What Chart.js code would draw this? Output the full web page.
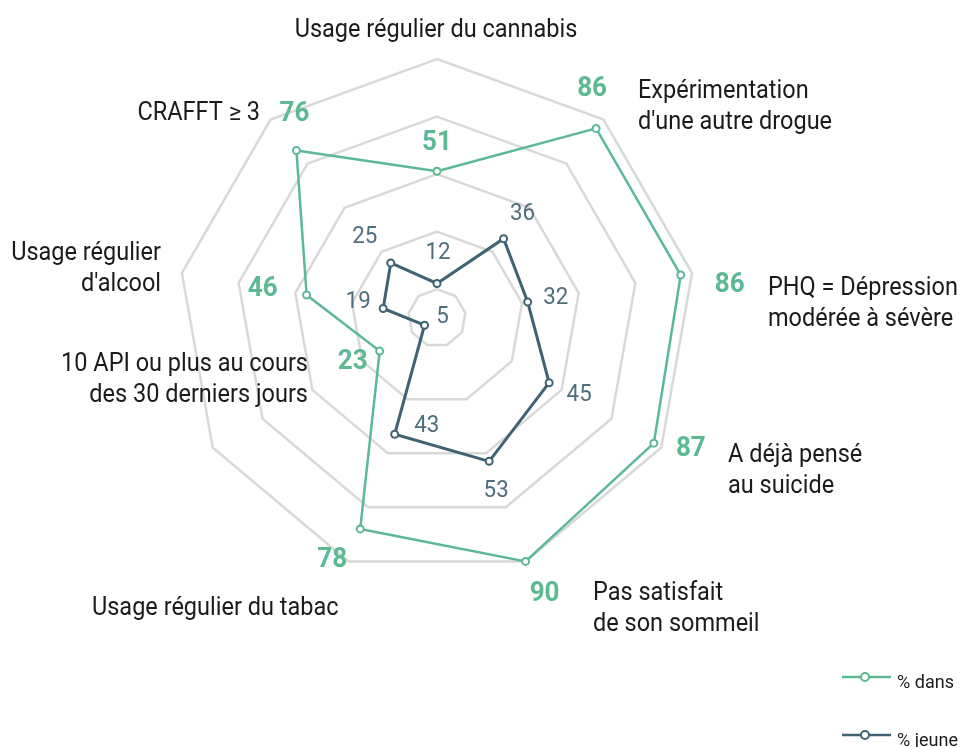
<!DOCTYPE html>
<html>
<head>
<meta charset="utf-8">
<script src="https://cdn.jsdelivr.net/npm/chart.js@4.4.1/dist/chart.umd.min.js"></script>
<style>
  html, body { margin: 0; padding: 0; background: #ffffff; }
  canvas { display: block; }
</style>
</head>
<body>
<canvas id="radar" width="960" height="747"></canvas>
<script>
// categories (one array per label, one string per line)
const categories = [
    ["Usage régulier du cannabis"],
    ["Expérimentation", "d'une autre drogue"],
    ["PHQ = Dépression", "modérée à sévère"],
    ["A déjà pensé", "au suicide"],
    ["Pas satisfait", "de son sommeil"],
    ["Usage régulier du tabac"],
    ["10 API ou plus au cours", "des 30 derniers jours"],
    ["Usage régulier", "d'alcool"],
    ["CRAFFT ≥ 3"],
];

const seriesNames = ["% dans", "% jeune"];
const dansValues = [51, 86, 86, 87, 90, 78, 23, 46, 76];
const jeuneValues = [12, 36, 32, 45, 53, 43, 5, 19, 25];

// grid rings (first one sits at the centre and is not drawn)
const gridTicks = [0, 10, 30, 50, 70, 90];

const GREEN = "#5cb994";
const DARK = "#3f6373";
const DARK_TEXT = "#4f6e7e";
const FONT = "Roboto, 'Noto Sans', sans-serif";

// Roboto squeezed a bit to look like the condensed face of the original
function squeezedText(ctx, text, x, y, squeeze) {
    const w = ctx.measureText(text).width;
    ctx.fillText(text, x, y, w * squeeze);
}

// where each category label sits (first baseline), in canvas pixels
const labelLayout = [
    { x: 436, y: 37, align: "center" },
    { x: 638, y: 98, align: "left" },
    { x: 768, y: 295, align: "left" },
    { x: 728, y: 462, align: "left" },
    { x: 593, y: 600, align: "left" },
    { x: 92, y: 615, align: "left" },
    { x: 308, y: 371, align: "right" },
    { x: 161, y: 260, align: "right" },
    { x: 260, y: 120, align: "right" },
];

// value labels: offset of the label centre from its point
const dansNudge = [[0, -31], [-4, -42], [49, 7], [37, 3], [19, 30], [-28, 28], [-27, 8], [-44, -9], [-2, -39]];
const jeuneNudge = [[1, -33], [19, -27], [28, -7], [30, 10], [7, 27], [32, -11], [18, -11], [-25, -9], [-26, -28]];

const labelsPlugin = {
    id: "radarLabels",
    afterDatasetsDraw(chart) {
        const ctx = chart.ctx;
        const scale = chart.scales.r;
        ctx.save();
        ctx.textBaseline = "alphabetic";

        // category labels
        ctx.fillStyle = "#1b1b1b";
        ctx.font = "25px " + FONT;
        categories.forEach((lines, i) => {
            const l = labelLayout[i];
            ctx.textAlign = l.align;
            lines.forEach((line, k) => squeezedText(ctx, line, l.x, l.y + k * 30.5, 0.94));
        });

        // value labels
        ctx.textAlign = "center";
        const sets = [
            { values: dansValues, nudge: dansNudge, color: GREEN, size: 28, weight: "bold " },
            { values: jeuneValues, nudge: jeuneNudge, color: DARK_TEXT, size: 24, weight: "" },
        ];
        sets.forEach((s) => {
            ctx.fillStyle = s.color;
            ctx.font = s.weight + s.size + "px " + FONT;
            s.values.forEach((v, i) => {
                const p = scale.getPointPosition(i, scale.getDistanceFromCenterForValue(v));
                const baseline = p.y + s.nudge[i][1] + s.size * 0.355;
                squeezedText(ctx, String(v), p.x + s.nudge[i][0], baseline, 0.93);
            });
        });

        // legend, bottom right
        chart.data.datasets.forEach((ds, i) => {
            const y = 677 + i * 58;
            ctx.strokeStyle = ds.borderColor;
            ctx.lineWidth = 2.5;
            ctx.beginPath();
            ctx.moveTo(842, y);
            ctx.lineTo(891, y);
            ctx.stroke();
            ctx.fillStyle = "#ffffff";
            ctx.lineWidth = 2;
            ctx.beginPath();
            ctx.arc(865, y, 4, 0, Math.PI * 2);
            ctx.fill();
            ctx.stroke();
            ctx.fillStyle = "#1b1b1b";
            ctx.font = "19px " + FONT;
            ctx.textAlign = "left";
            squeezedText(ctx, ds.label, 897, y + 11, 0.95);
        });
        ctx.restore();
    },
};

const ctx = document.getElementById("radar").getContext("2d");

const radarChart = new Chart(ctx, {
    type: "radar",
    data: {
        labels: categories,
        datasets: [
            {
                label: seriesNames[0],
                data: dansValues,
                borderColor: GREEN,
                borderWidth: 2.5,
                pointRadius: 3.5,
                pointBorderWidth: 2,
                pointBackgroundColor: "#ffffff",
                pointBorderColor: GREEN,
                fill: false,
                tension: 0,
            },
            {
                label: seriesNames[1],
                data: jeuneValues,
                borderColor: DARK,
                borderWidth: 3,
                pointRadius: 3.5,
                pointBorderWidth: 2,
                pointBackgroundColor: "#ffffff",
                pointBorderColor: DARK,
                fill: false,
                tension: 0,
            },
        ],
    },
    options: {
        responsive: false,
        animation: false,
        devicePixelRatio: 1,
        layout: {
            padding: { top: 59, bottom: 170, left: 178, right: 264 },
        },
        plugins: {
            legend: { display: false },
            tooltip: { enabled: false },
        },
        scales: {
            r: {
                min: 0,
                max: 90,
                afterBuildTicks: (scale) => {
                    scale.ticks = gridTicks.map((v) => ({ value: v }));
                },
                ticks: { display: false },
                grid: { color: "#d9d9d9", lineWidth: 2.5 },
                angleLines: { display: false },
                pointLabels: { display: false },
            },
        },
    },
    plugins: [labelsPlugin],
});
</script>
</body>
</html>
